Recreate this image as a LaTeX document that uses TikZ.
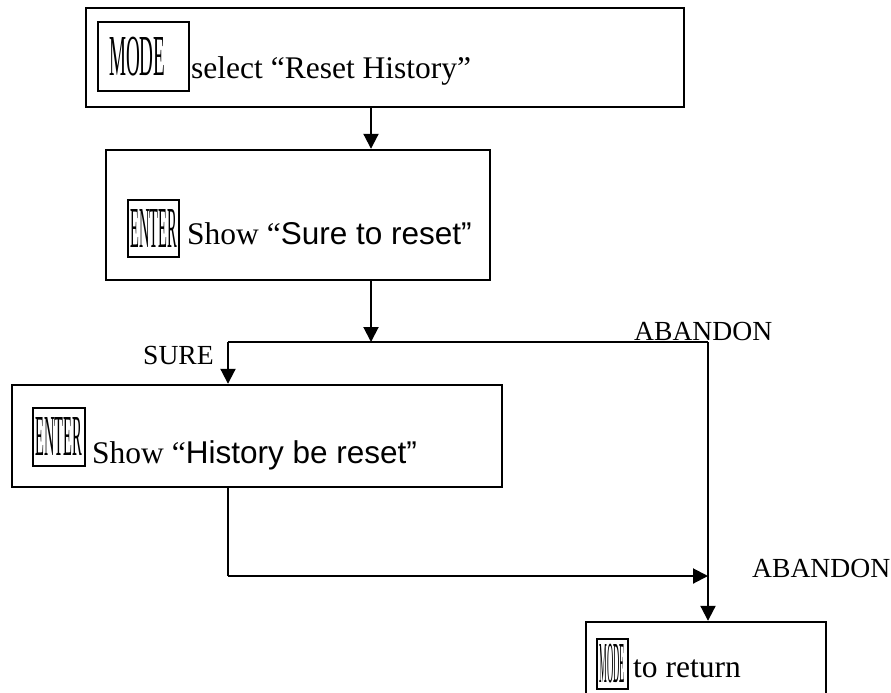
\documentclass[tikz,border=0pt]{standalone}
\usepackage{fontspec}
\setmainfont{Liberation Serif}
\newfontfamily\arialfont{Liberation Sans}
\usetikzlibrary{arrows.meta}

\tikzset{
  stepbox/.style={draw, line width=2.4pt, inner sep=0pt},
  keybox/.style={draw, line width=2pt, inner sep=0pt},
  arr/.style={line width=2pt, -{Triangle[length=15pt,width=15pt]}},
  lnk/.style={line width=2pt},
  txt/.style={anchor=base west, inner sep=0pt, font=\fontsize{31.5}{36}\selectfont},
  lbl/.style={anchor=base west, inner sep=0pt, font=\fontsize{27.6}{32}\selectfont},
}
\newcommand{\keytext}[2]{\scalebox{#1}[1]{\fontsize{58}{58}\selectfont #2}}

\begin{document}
\begin{tikzpicture}[x=1pt,y=-1pt]
	\useasboundingbox (0,0) rectangle (891,693);
	\clip (0,0) rectangle (891,693);
	
	% Step boxes
	\node[stepbox, minimum width=598pt, minimum height=99pt] (reset) at (385,57.5) {};
	\node[stepbox, minimum width=384pt, minimum height=130pt] (confirm) at (298,215) {};
	\node[stepbox, minimum width=490pt, minimum height=102pt] (cleared) at (257,436) {};
	\node[stepbox, minimum width=240pt, minimum height=98pt] (back) at (706,671) {};
	
	% Keys
	\node[keybox, minimum height=69pt, text width=69pt, inner xsep=11pt, align=left] (modeA) at (143.5,56.5) {\keytext{0.33}{MODE}};
	\node[keybox, minimum width=51pt, minimum height=57pt] (enterA) at (153.5,228.5) {\keytext{0.25}{ENTER}};
	\node[keybox, minimum width=52pt, minimum height=58pt] (enterB) at (59,437) {\keytext{0.25}{ENTER}};
	\node[keybox, minimum width=31pt, minimum height=50pt] (modeB) at (612.5,664) {\keytext{0.15}{MODE}};
	
	% Texts
	\node[txt] (selecttxt) at (191,78) {select “Reset History”};
	\node[txt] (suretxt) at (187,244) {Show “{\arialfont Sure to reset”}};
	\node[txt] (historytxt) at (92,463) {Show “{\arialfont History be reset”}};
	\node[txt] (returntxt) at (633,677) {to return};
	
	% Branch labels
	\node[lbl] (surelbl) at (143,364) {SURE};
	\node[lbl] (abandonA) at (634,340) {ABANDON};
	\node[lbl] (abandonB) at (752,577) {ABANDON};
	
	% Junctions
	\coordinate (split) at (371,342);
	\coordinate (sureturn) at (228,342);
	\coordinate (abandonturn) at (708,342);
	\coordinate (backturn) at (228,576);
	\coordinate (join) at (708,576);
	
	% Connectors
	\draw[arr] (reset.south -| split) -- (confirm.north -| split);
	\draw[arr] (confirm.south -| split) -- (split);
	\draw[lnk] (sureturn) -- (abandonturn);
	\draw[arr] (sureturn) -- (cleared.north -| sureturn);
	\draw[arr] (abandonturn) -- (back.north -| abandonturn);
	\draw[lnk] (cleared.south -| backturn) -- (backturn);
	\draw[arr] (backturn) -- (join);
	
\end{tikzpicture}
\end{document}
